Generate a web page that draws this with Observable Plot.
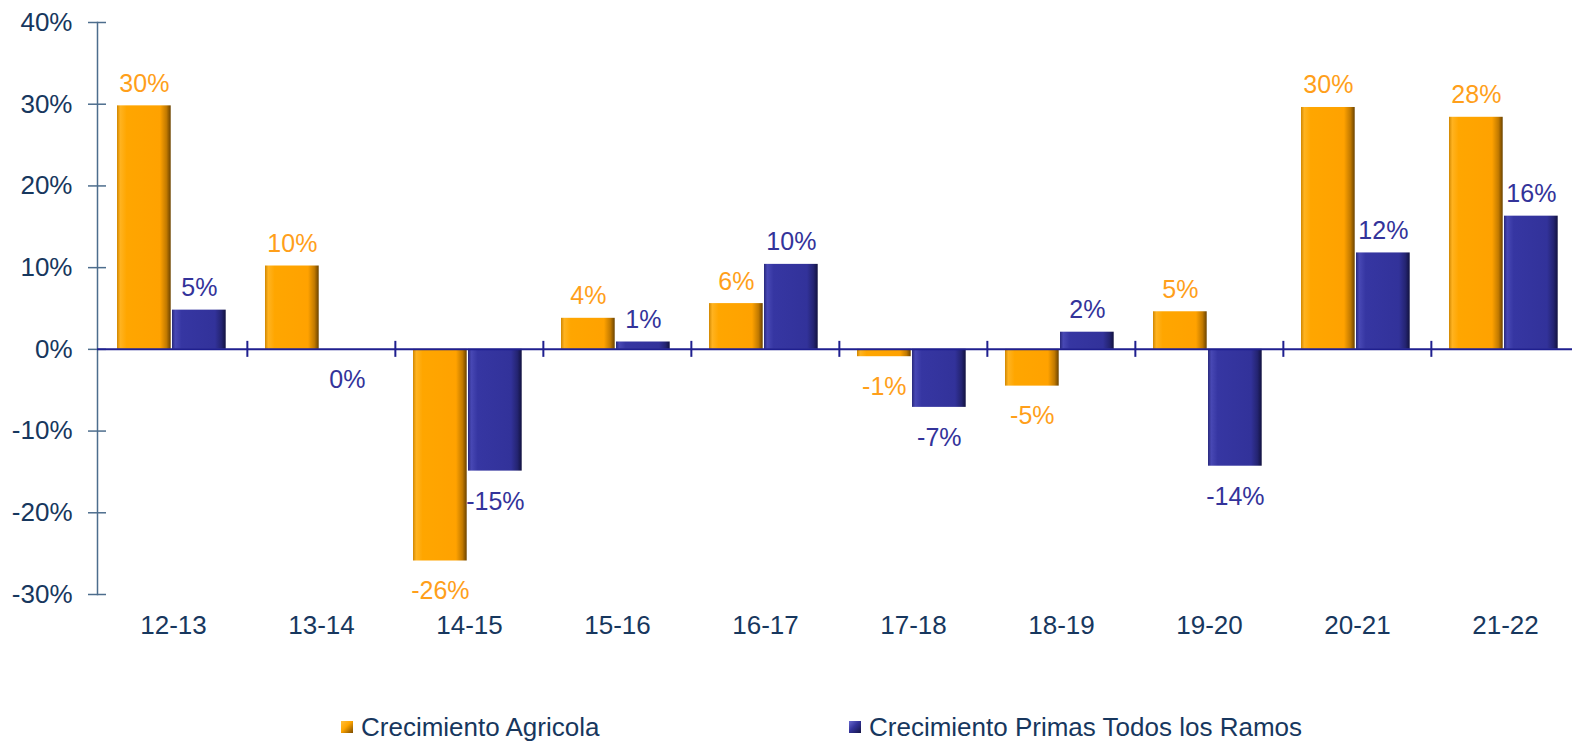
<!DOCTYPE html>
<html>
<head>
<meta charset="utf-8">
<script src="https://cdn.jsdelivr.net/npm/d3@7"></script>
<script src="https://cdn.jsdelivr.net/npm/@observablehq/plot@0.6"></script>
<style>
  body { margin: 0; background: #fff; font-family: Arial, "Liberation Sans", sans-serif; }
  #wrap { position: relative; width: 1572px; height: 745px; overflow: hidden; }
  .leg { position: absolute; top: 712px; font-size: 26px; line-height: 30px; color: #17375e; display: flex; align-items: center; white-space: nowrap; }
  .sw { display: inline-block; width: 12px; height: 12px; margin-right: 8px; }
</style>
</head>
<body>
<div id="wrap">
  <div id="chart"></div>
  <div class="leg" style="left:341px"><span class="sw" style="background:linear-gradient(135deg,#ffc040,#ffa500 45%,#7a4a00)"></span><span id="leg1"></span></div>
  <div class="leg" style="left:849px"><span class="sw" style="background:linear-gradient(135deg,#6a6ad0,#33339a 45%,#141445)"></span><span id="leg2"></span></div>
</div>
<script>
// ---- data ----
const categories = ["12-13", "13-14", "14-15", "15-16", "16-17", "17-18", "18-19", "19-20", "20-21", "21-22"];
const agricola = [29.8, 10.2, -25.9, 3.8, 5.6, -0.9, -4.5, 4.6, 29.6, 28.4];
const primas   = [4.8, 0.0, -14.9, 0.9, 10.4, -7.1, 2.1, -14.3, 11.8, 16.3];
const agricolaLabels = ["30%", "10%", "-26%", "4%", "6%", "-1%", "-5%", "5%", "30%", "28%"];
const primasLabels   = ["5%", "0%", "-15%", "1%", "10%", "-7%", "2%", "-14%", "12%", "16%"];
const seriesNames = ["Crecimiento Agricola", "Crecimiento Primas Todos los Ramos"];
const yTicks = [-30, -20, -10, 0, 10, 20, 30, 40];

document.getElementById("leg1").textContent = seriesNames[0];
document.getElementById("leg2").textContent = seriesNames[1];

const rows = categories.map((c, i) => ({
  cat: c, agr: agricola[i], pri: primas[i], agrL: agricolaLabels[i], priL: primasLabels[i]
}));

const W = 1572, H = 640;
const xStart = 97, xEnd = 1580;
const step = (xEnd - xStart) / categories.length;
const barW = 54, leftPad = 18, gap = 1;
const axisColor = "#4d6d8d", textColor = "#17375e", zeroColor = "#1f1f8f";
const orangeText = "#ff9f1a", blueText = "#33339a";

const chart = Plot.plot({
  width: W, height: H,
  marginLeft: xStart, marginRight: 0, marginTop: 22, marginBottom: 46,
  style: { fontFamily: "Arial, 'Liberation Sans', sans-serif", fontSize: "26px", background: "#fff" },
  x: { type: "band", domain: categories, range: [xStart, xEnd], padding: 0, label: null },
  y: { domain: [-30, 40], label: null },
  marks: [
    Plot.frame({ anchor: "left", stroke: axisColor, strokeWidth: 1.5 }),
    Plot.axisY({ ticks: yTicks, tickSize: 18, dx: 9, tickFormat: () => "", stroke: axisColor, strokeWidth: 1.5, label: null }),
    Plot.axisY({ ticks: yTicks, tickSize: 0, tickPadding: 25, tickFormat: d => d + "%", fontSize: 26, fill: textColor, label: null }),
    Plot.axisX({ tickSize: 0, tickPadding: 21, fontSize: 26, fill: textColor, label: null }),
    Plot.barY(rows, { x: "cat", y: "agr", insetLeft: leftPad, insetRight: step - leftPad - barW, fill: "url(#gO)" }),
    Plot.barY(rows, { x: "cat", y: "pri", insetLeft: leftPad + barW + gap, insetRight: step - leftPad - 2 * barW - gap, fill: "url(#gB)" }),
    Plot.ruleY([0], { stroke: zeroColor, strokeWidth: 2 }),
    Plot.ruleX(categories.slice(1), { x: d => d, y1: 0, y2: 0, insetTop: -8, insetBottom: -8, dx: -step / 2, stroke: zeroColor, strokeWidth: 2 }),
    Plot.text(rows, { filter: d => d.agr > 0, x: "cat", y: "agr", text: "agrL", dx: leftPad + barW / 2 - step / 2, dy: -22, fill: orangeText, fontSize: 25 }),
    Plot.text(rows, { filter: d => d.agr <= 0, x: "cat", y: "agr", text: "agrL", dx: leftPad + barW / 2 - step / 2, dy: 30, fill: orangeText, fontSize: 25 }),
    Plot.text(rows, { filter: d => d.pri > 0, x: "cat", y: "pri", text: "priL", dx: leftPad + barW + gap + barW / 2 - step / 2, dy: -22, fill: blueText, fontSize: 25 }),
    Plot.text(rows, { filter: d => d.pri <= 0, x: "cat", y: "pri", text: "priL", dx: leftPad + barW + gap + barW / 2 - step / 2, dy: 31, fill: blueText, fontSize: 25 })
  ]
});

// gradient definitions for the bevelled bars
const ns = "http://www.w3.org/2000/svg";
const defs = document.createElementNS(ns, "defs");
function grad(id, stops) {
  const g = document.createElementNS(ns, "linearGradient");
  g.setAttribute("id", id);
  g.setAttribute("x1", "0"); g.setAttribute("x2", "1"); g.setAttribute("y1", "0"); g.setAttribute("y2", "0");
  stops.forEach(([o, c]) => {
    const s = document.createElementNS(ns, "stop");
    s.setAttribute("offset", o); s.setAttribute("stop-color", c);
    g.appendChild(s);
  });
  defs.appendChild(g);
}
grad("gO", [[0, "#d08600"], [0.06, "#ffb320"], [0.18, "#ffa600"], [0.8, "#ffa200"], [0.92, "#c27a00"], [1, "#6b4300"]]);
grad("gB", [[0, "#28287c"], [0.06, "#4848b4"], [0.18, "#3636a2"], [0.8, "#32329a"], [0.92, "#242472"], [1, "#121240"]]);
chart.insertBefore(defs, chart.firstChild);

document.getElementById("chart").appendChild(chart);
</script>
</body>
</html>
